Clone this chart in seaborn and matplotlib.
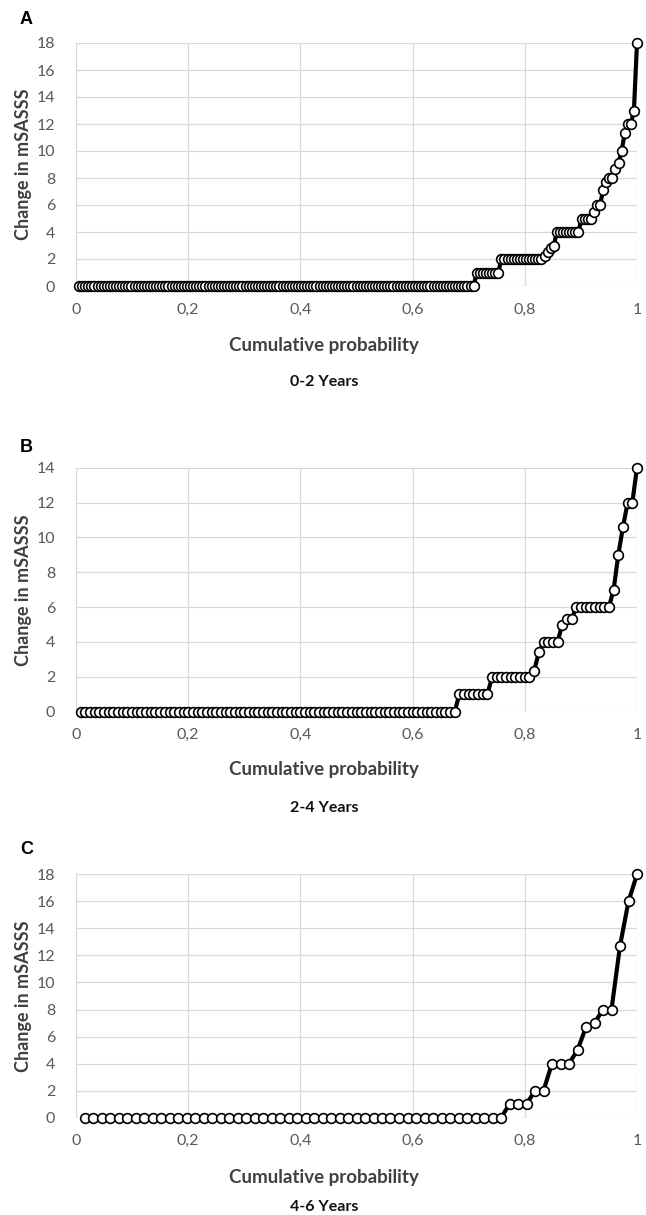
import numpy as np
import pandas as pd
import matplotlib.pyplot as plt
import seaborn as sns

# step levels of change in mSASSS (sorted) and how many patients sit on each level
a_levels = [0, 1, 2, 2.2, 2.5, 2.8, 3, 4, 5, 5.5, 6, 7.1, 7.7, 8, 8.7, 9.1, 10, 11.3, 12, 13, 18]
a_counts = [129, 8, 14, 1, 1, 1, 1, 8, 4, 1, 2, 1, 1, 2, 1, 1, 1, 1, 2, 1, 1]

b_levels = [0, 1, 2, 2.35, 3.4, 4, 5, 5.3, 6, 7, 9, 10.6, 12, 14]
b_counts = [81, 7, 9, 1, 1, 4, 1, 2, 8, 1, 1, 1, 2, 1]

c_levels = [0, 1, 2, 4, 5, 6.7, 7, 8, 12.7, 16, 18]
c_counts = [50, 3, 2, 3, 1, 1, 1, 2, 1, 1, 1]

panel_letters = ["A", "B", "C"]
periods = ["0-2 Years", "2-4 Years", "4-6 Years"]
y_max = [18, 14, 18]
x_ticks = [0, 0.2, 0.4, 0.6, 0.8, 1]
x_ticklabels = ["0", "0,2", "0,4", "0,6", "0,8", "1"]


def cdf_frame(levels, counts):
    vals = np.repeat(levels, counts)
    n = len(vals)
    return pd.DataFrame({"prob": np.arange(1, n + 1) / n, "change": vals})


sns.set_style("white")
plt.rcParams["font.family"] = ["Lato", "DejaVu Sans"]

H = 1215.0
fig = plt.figure(figsize=(6.46, 12.15), dpi=100)

# pixel layout of each panel: (top of plot, bottom of plot, xlabel row, title row, letter row)
layout = [
    (43, 286, 346, 382, 20),
    (467.7, 711.7, 770, 808, 447),
    (874.3, 1117.7, 1178, 1207, 850),
]

frames = [cdf_frame(a_levels, a_counts), cdf_frame(b_levels, b_counts), cdf_frame(c_levels, c_counts)]

for k, df in enumerate(frames):
    top, bot, xl_y, yr_y, let_y = layout[k]
    ax = fig.add_axes([76 / 646, 1 - bot / H, 561 / 646, (bot - top) / H])
    sns.lineplot(data=df, x="prob", y="change", ax=ax, color="black", lw=3,
                 marker="o", markersize=7, markerfacecolor="white",
                 markeredgecolor="black", markeredgewidth=1.2, clip_on=False)
    ax.set_xlim(0, 1)
    ax.set_ylim(0, y_max[k])
    ax.set_xticks(x_ticks)
    ax.set_xticklabels(x_ticklabels)
    ax.set_yticks(np.arange(0, y_max[k] + 1, 2))
    ax.grid(True, color="#d9d9d9", lw=0.9)
    ax.set_axisbelow(True)
    for s in ax.spines.values():
        s.set_visible(False)
    ax.tick_params(axis="both", length=0, labelsize=11.5, labelcolor="#595959")
    ax.tick_params(axis="y", pad=15)
    ax.tick_params(axis="x", pad=12)
    ax.set_xlabel("")
    ax.set_ylabel("Change in mSASSS", fontsize=13, fontweight="bold", color="#404040", labelpad=3)

    fig.text(324 / 646, 1 - xl_y / H, "Cumulative probability", ha="center", va="center",
             fontsize=13.5, fontweight="bold", color="#404040")
    fig.text(324 / 646, 1 - yr_y / H, periods[k], ha="center", va="center",
             fontsize=11.5, fontweight="bold", color="#111111")
    fig.text(20 / 646, 1 - let_y / H, panel_letters[k], ha="left", va="center",
             fontsize=13, fontweight="bold", color="black", family="Liberation Sans")

plt.savefig("out.png", dpi=100)
